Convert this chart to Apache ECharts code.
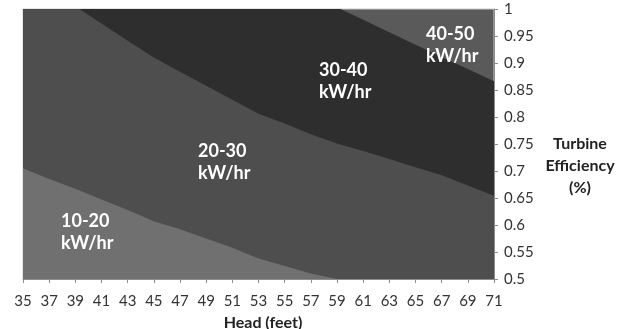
<!DOCTYPE html>
<html>
<head>
<meta charset="utf-8">
<script src="https://cdn.jsdelivr.net/npm/echarts@6/dist/echarts.min.js"></script>
<style>
  html, body { margin: 0; padding: 0; background: #fff; }
  #chart { width: 624px; height: 329px; }
</style>
</head>
<body>
<div id="chart"></div>
<script>
// Head values along the horizontal axis (feet)
var heads = ['35','37','39','41','43','45','47','49','51','53','55','57','59','61','63','65','67','69','71'];

// Turbine efficiency at which output crosses each band edge, per head value.
// Values outside 0.5–1 are clipped by the plot area.
var edge20 = [0.705,0.685,0.667,0.647,0.628,0.607,0.592,0.575,0.558,0.538,0.524,0.510,0.500,0.490,0.475,0.460,0.450,0.440,0.430];
var edge30 = [1.060,1.030,1.005,0.973,0.941,0.910,0.884,0.858,0.832,0.806,0.788,0.768,0.751,0.737,0.722,0.707,0.692,0.673,0.654];
var edge40 = [1.250,1.210,1.170,1.140,1.110,1.090,1.070,1.050,1.040,1.030,1.020,1.025,1.003,0.980,0.957,0.934,0.911,0.889,0.866];

// Output bands (kW/hr), lowest first
var bandNames = ['10-20', '20-30', '30-40', '40-50'];
var bandColors = ['#707070', '#4e4e4e', '#2e2e2e', '#5a5a5a'];

var font = 'Lato, "Open Sans", sans-serif';

function bandSeries(name, values, color) {
  return {
    name: name,
    type: 'line',
    data: values,
    symbol: 'none',
    smooth: false,
    lineStyle: { width: 0 },
    areaStyle: { color: color, opacity: 1, origin: 'start' },
    silent: true,
    animation: false
  };
}

function bandLabel(text, x, y) {
  return {
    type: 'text',
    x: x,
    y: y,
    z: 100,
    silent: true,
    style: {
      text: text + '\nkW/hr',
      fill: '#ffffff',
      font: 'bold 18px ' + font,
      lineHeight: 22,
      align: 'left',
      verticalAlign: 'top'
    }
  };
}

var chart = echarts.init(document.getElementById('chart'), null, { renderer: 'canvas' });

chart.setOption({
  animation: false,
  backgroundColor: '#ffffff',
  grid: {
    left: 23, right: 130, top: 9, bottom: 50,
    outerBoundsMode: 'none',
    containLabel: false,
    show: true,
    backgroundColor: bandColors[3],
    borderColor: '#c8c8c8',
    borderWidth: 1
  },
  xAxis: {
    type: 'category',
    data: heads,
    boundaryGap: false,
    name: 'Head (feet)',
    nameLocation: 'middle',
    nameGap: 36,
    nameTextStyle: { fontFamily: font, fontWeight: 'bold', fontSize: 16, color: '#222', padding: [0, 0, 0, 9] },
    axisLine: { show: true, lineStyle: { color: '#8c8c8c', width: 1 } },
    axisTick: { show: true, length: 4, inside: false, lineStyle: { color: '#8c8c8c' } },
    axisLabel: { interval: 0, margin: 15, fontFamily: font, fontSize: 15, color: '#333' },
    splitLine: { show: false }
  },
  yAxis: {
    type: 'value',
    position: 'right',
    min: 0.5,
    max: 1,
    interval: 0.05,
    axisLine: { show: true, lineStyle: { color: '#8c8c8c', width: 1 } },
    axisTick: { show: true, length: 4, inside: false, lineStyle: { color: '#8c8c8c' } },
    axisLabel: {
      margin: 10, fontFamily: font, fontSize: 15, color: '#333',
      formatter: function (v) { return String(Math.round(v * 100) / 100); }
    },
    splitLine: { show: false }
  },
  series: [
    bandSeries(bandNames[2], edge40, bandColors[2]),
    bandSeries(bandNames[1], edge30, bandColors[1]),
    bandSeries(bandNames[0], edge20, bandColors[0])
  ],
  graphic: [
    bandLabel(bandNames[0], 61, 210),
    bandLabel(bandNames[1], 198, 140),
    bandLabel(bandNames[2], 319, 59),
    bandLabel(bandNames[3], 426, 23),
    {
      // vertical axis title, set beside the efficiency scale
      type: 'text',
      x: 580,
      y: 166,
      silent: true,
      style: {
        text: 'Turbine\nEfficiency\n(%)',
        fill: '#222',
        font: 'bold 16px ' + font,
        lineHeight: 22,
        align: 'center',
        verticalAlign: 'middle'
      }
    }
  ]
});
</script>
</body>
</html>
